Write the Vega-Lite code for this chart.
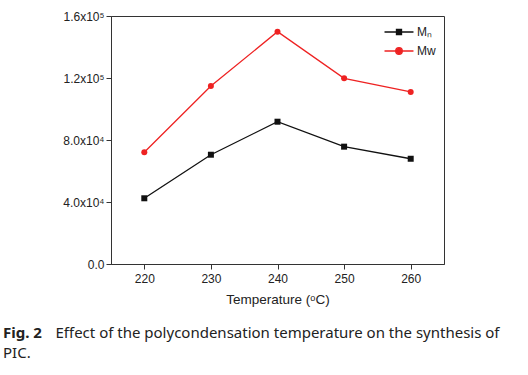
{
  "$schema": "https://vega.github.io/schema/vega-lite/v6.json",
  "autosize": "none",
  "width": 333,
  "height": 248,
  "padding": {"left": 111, "top": 16, "right": 84, "bottom": 111},
  "background": "white",
  "config": {
    "view": {"stroke": "#333", "strokeWidth": 1},
    "axis": {"labelFont": "Liberation Sans", "titleFont": "Liberation Sans", "labelColor": "#222", "titleColor": "#222", "domainColor": "#333", "tickColor": "#333", "grid": false, "tickSize": 5, "labelFontSize": 12, "titleFontSize": 13.5, "titleFontWeight": "normal"},
    "legend": {"labelFont": "Liberation Sans", "labelFontSize": 12, "labelColor": "#222"}
  },
  "title": {
    "text": "Fig. 2",
    "subtitle": ["\u200b\u2003\u2003\u2003\u2002Effect of the polycondensation temperature on the synthesis of", "PIC."],
    "orient": "bottom",
    "anchor": "start",
    "frame": "group",
    "dx": -108,
    "font": "Noto Sans",
    "fontSize": 15,
    "fontWeight": "bold",
    "color": "#222",
    "subtitleFont": "Noto Sans",
    "subtitleFontSize": 15,
    "subtitleColor": "#222",
    "subtitleLineHeight": 20,
    "subtitlePadding": -15,
    "offset": 20
  },
  "data": {"values": [
    {"T": 220, "series": "Mₙ", "value": 42400},
    {"T": 230, "series": "Mₙ", "value": 70500},
    {"T": 240, "series": "Mₙ", "value": 91800},
    {"T": 250, "series": "Mₙ", "value": 75700},
    {"T": 260, "series": "Mₙ", "value": 67900},
    {"T": 220, "series": "Mw", "value": 72100},
    {"T": 230, "series": "Mw", "value": 114800},
    {"T": 240, "series": "Mw", "value": 149900},
    {"T": 250, "series": "Mw", "value": 119800},
    {"T": 260, "series": "Mw", "value": 111000}
  ]},
  "encoding": {
    "x": {"field": "T", "type": "quantitative", "scale": {"domain": [215, 265], "nice": false, "zero": false},
      "axis": {"values": [220, 230, 240, 250, 260], "title": "Temperature (ᵒC)", "titlePadding": 8, "labelPadding": 4}},
    "y": {"field": "value", "type": "quantitative", "scale": {"domain": [0, 160000], "nice": false},
      "axis": {"values": [0, 40000, 80000, 120000, 160000], "title": null, "labelPadding": 2,
        "labelExpr": "datum.value == 0 ? '0.0' : datum.value == 40000 ? '4.0x10⁴' : datum.value == 80000 ? '8.0x10⁴' : datum.value == 120000 ? '1.2x10⁵' : '1.6x10⁵'"}},
    "color": {"field": "series", "type": "nominal", "scale": {"domain": ["Mₙ", "Mw"], "range": ["#111111", "#ee2222"]},
      "legend": {"title": null, "orient": "top-right", "offset": 8, "symbolSize": 196, "symbolStrokeWidth": 1.3, "labelOffset": 10, "rowPadding": 5,
        "encode": {"symbols": {"update": {"shape": {"signal": "datum.index === 0 ? 'M-2.07,0H2.07M-0.36,-0.36H0.36V0.36H-0.36Z' : 'M-2.07,0H2.07M0.47,0A0.47,0.47,0,1,1,-0.47,0A0.47,0.47,0,1,1,0.47,0Z'"}, "strokeWidth": {"value": 1.3}}}}}}
  },
  "layer": [
    {"mark": {"type": "line", "strokeWidth": 1.3}},
    {"transform": [{"filter": "datum.series === 'Mₙ'"}], "mark": {"type": "point", "filled": true, "size": 36, "opacity": 1, "shape": "square"}},
    {"transform": [{"filter": "datum.series === 'Mw'"}], "mark": {"type": "point", "filled": true, "size": 36, "opacity": 1, "shape": "circle"}}
  ]
}
